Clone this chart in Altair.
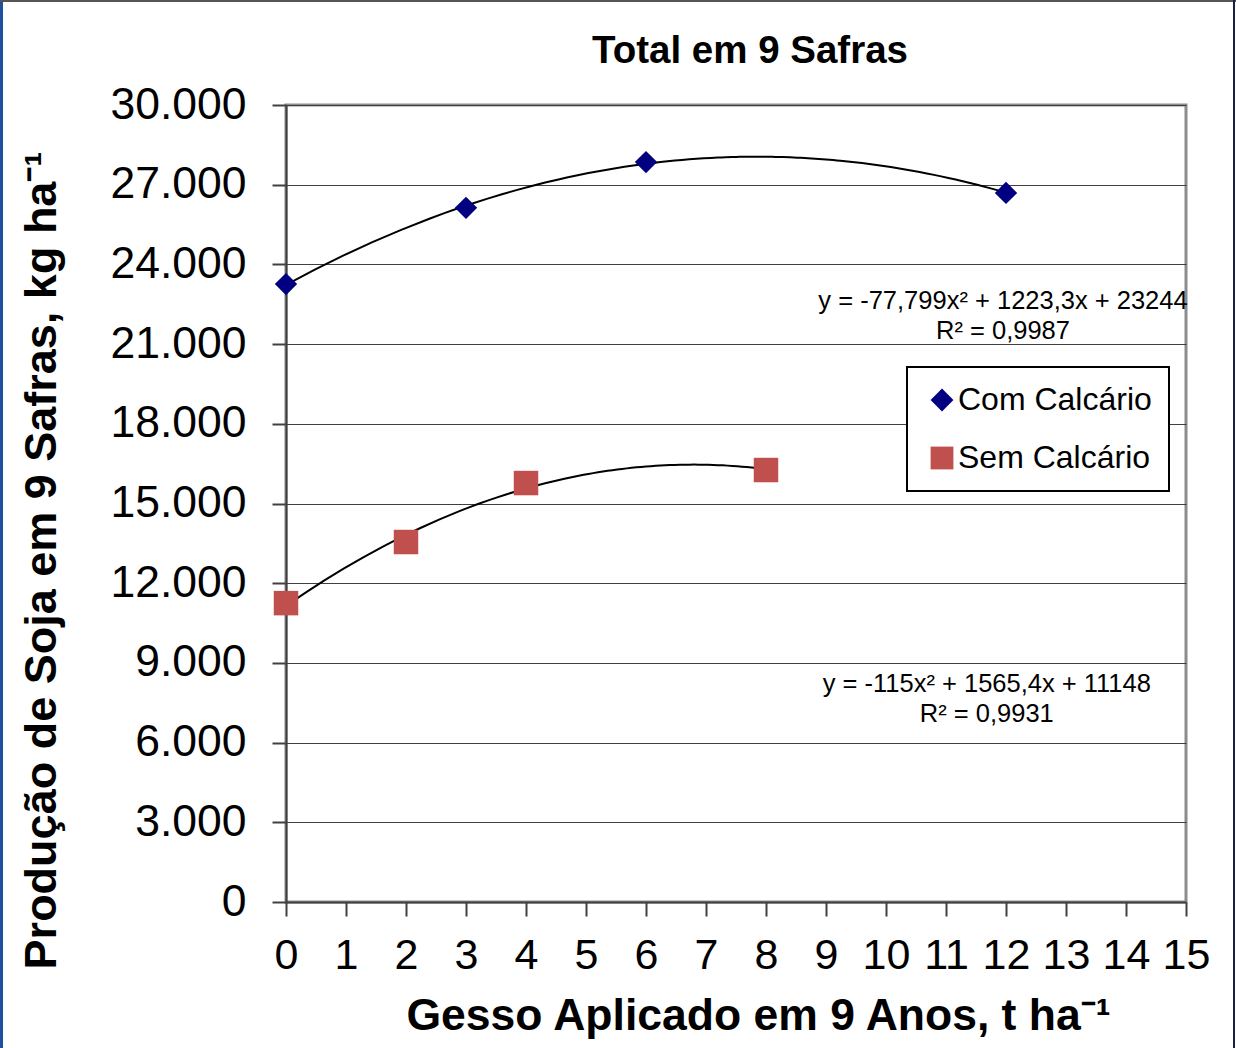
import altair as alt
import pandas as pd

# Gesso aplicado (t/ha) e produção acumulada de soja em 9 safras (kg/ha)
gesso_com = [0, 3, 6, 12]
prod_com = [23260, 26130, 27850, 26690]
gesso_sem = [0, 2, 4, 8]
prod_sem = [11250, 13550, 15770, 16260]

series = ["Com Calcário", "Sem Calcário"]
colors = ["#000080", "#C0504D"]
shapes = ["diamond", "square"]

eq_text = [
    "y = -77,799x² + 1223,3x + 23244\nR² = 0,9987",
    "y = -115x² + 1565,4x + 11148\nR² = 0,9931",
]
eq_x = [11.95, 11.68]
eq_y = [22630, 8210]

x_ticks = list(range(0, 16))
y_ticks = list(range(0, 30001, 3000))

df = pd.DataFrame(
    {
        "gesso": gesso_com + gesso_sem,
        "prod": prod_com + prod_sem,
        "serie": [series[0]] * len(gesso_com) + [series[1]] * len(gesso_sem),
    }
)
eqs = pd.DataFrame({"x": eq_x, "y": eq_y, "text": eq_text})

FONT = "Liberation Sans"

x_enc = alt.X(
    "gesso:Q",
    scale=alt.Scale(domain=[0, 15], nice=False),
    axis=alt.Axis(
        values=x_ticks,
        format="d",
        labelOverlap=False,
        labelFlush=False,
        title="Gesso Aplicado em 9 Anos, t ha⁻¹",
        titleFontSize=44.5,
        titleFontWeight="bold",
        titleX=472,
        titleY=127,
        titleBaseline="alphabetic",
        titleAlign="center",
        labelFontSize=43,
        labelPadding=18,
        tickSize=14,
        grid=False,
    ),
)
y_enc = alt.Y(
    "prod:Q",
    scale=alt.Scale(domain=[0, 30000], nice=False),
    axis=alt.Axis(
        values=y_ticks,
        labelExpr="replace(format(datum.value, ',d'), ',', '.')",
        labelOverlap=False,
        title="Produção de Soja em 9 Safras, kg ha⁻¹",
        titleFontSize=45,
        titleFontWeight="bold",
        titleAngle=-90,
        titleX=-231,
        titleY=455,
        titleBaseline="alphabetic",
        titleAlign="center",
        labelFontSize=44.5,
        labelPadding=26,
        tickSize=14,
        grid=True,
    ),
)

color_scale = alt.Scale(domain=series, range=colors)
shape_scale = alt.Scale(domain=series, range=shapes)


def series_points(name, size):
    return (
        alt.Chart(df)
        .transform_filter(alt.datum.serie == name)
        .mark_point(filled=True, opacity=1, strokeWidth=0, size=size)
        .encode(
            x=x_enc,
            y=y_enc,
            color=alt.Color("serie:N", scale=color_scale, title=None),
            shape=alt.Shape("serie:N", scale=shape_scale, title=None),
        )
    )


points_com = series_points(series[0], 500)
points_sem = series_points(series[1], 600)

trend = (
    alt.Chart(df)
    .transform_regression("gesso", "prod", method="poly", order=2, groupby=["serie"])
    .mark_line(color="black", strokeWidth=2)
    .encode(x="gesso:Q", y="prod:Q", detail="serie:N")
)

labels = (
    alt.Chart(eqs)
    .mark_text(
        font=FONT,
        fontSize=25.5,
        align="center",
        baseline="middle",
        lineBreak="\n",
        lineHeight=30,
        color="black",
    )
    .encode(x="x:Q", y="y:Q", text="text:N")
)

title = (
    alt.Chart(eqs.head(1))
    .mark_text(
        text="Total em 9 Safras",
        font=FONT,
        fontSize=38.5,
        fontWeight="bold",
        align="center",
        baseline="alphabetic",
        color="black",
    )
    .encode(x=alt.value(464), y=alt.value(-42))
)

# moldura externa da figura
frame_left = alt.Chart(df).mark_rule(color="#1F4FA0", strokeWidth=3).encode(
    x=alt.value(-285), y=alt.value(-105), y2=alt.value(943)
)
frame_top = alt.Chart(df).mark_rule(color="#555555", strokeWidth=2).encode(
    x=alt.value(-286), x2=alt.value(950), y=alt.value(-104)
)
frame_right = alt.Chart(df).mark_rule(color="#1a2040", strokeWidth=2).encode(
    x=alt.value(948), y=alt.value(-105), y2=alt.value(943)
)

chart = (
    alt.layer(
        trend, points_com, points_sem, labels, title,
        frame_left, frame_top, frame_right,
    )
    .properties(
        width=900,
        height=797,
        autosize=alt.AutoSizeParams(type="none"),
        padding={"left": 286, "top": 105, "right": 50, "bottom": 146},
        background="white",
    )
    .configure(font=FONT)
    .configure_view(stroke="#8C8C8C", strokeWidth=3)
    .configure_axis(
        domainColor="#404040",
        domainWidth=2,
        tickColor="#404040",
        tickWidth=2,
        gridColor="#404040",
        gridWidth=1,
        gridOpacity=1,
        labelColor="black",
        titleColor="black",
        labelFont=FONT,
        titleFont=FONT,
    )
    .configure_legend(
        orient="none",
        legendX=621,
        legendY=262,
        strokeColor="black",
        strokeWidth=2,
        fillColor="white",
        padding=17,
        symbolOffset=2,
        labelFontSize=32,
        labelFont=FONT,
        labelColor="black",
        labelOffset=0,
        labelLimit=400,
        rowPadding=26,
        symbolSize=520,
        symbolStrokeWidth=0,
        symbolOpacity=1,
        cornerRadius=0,
    )
)

chart.save("out.html", embed_options={"renderer": "svg", "actions": False})
